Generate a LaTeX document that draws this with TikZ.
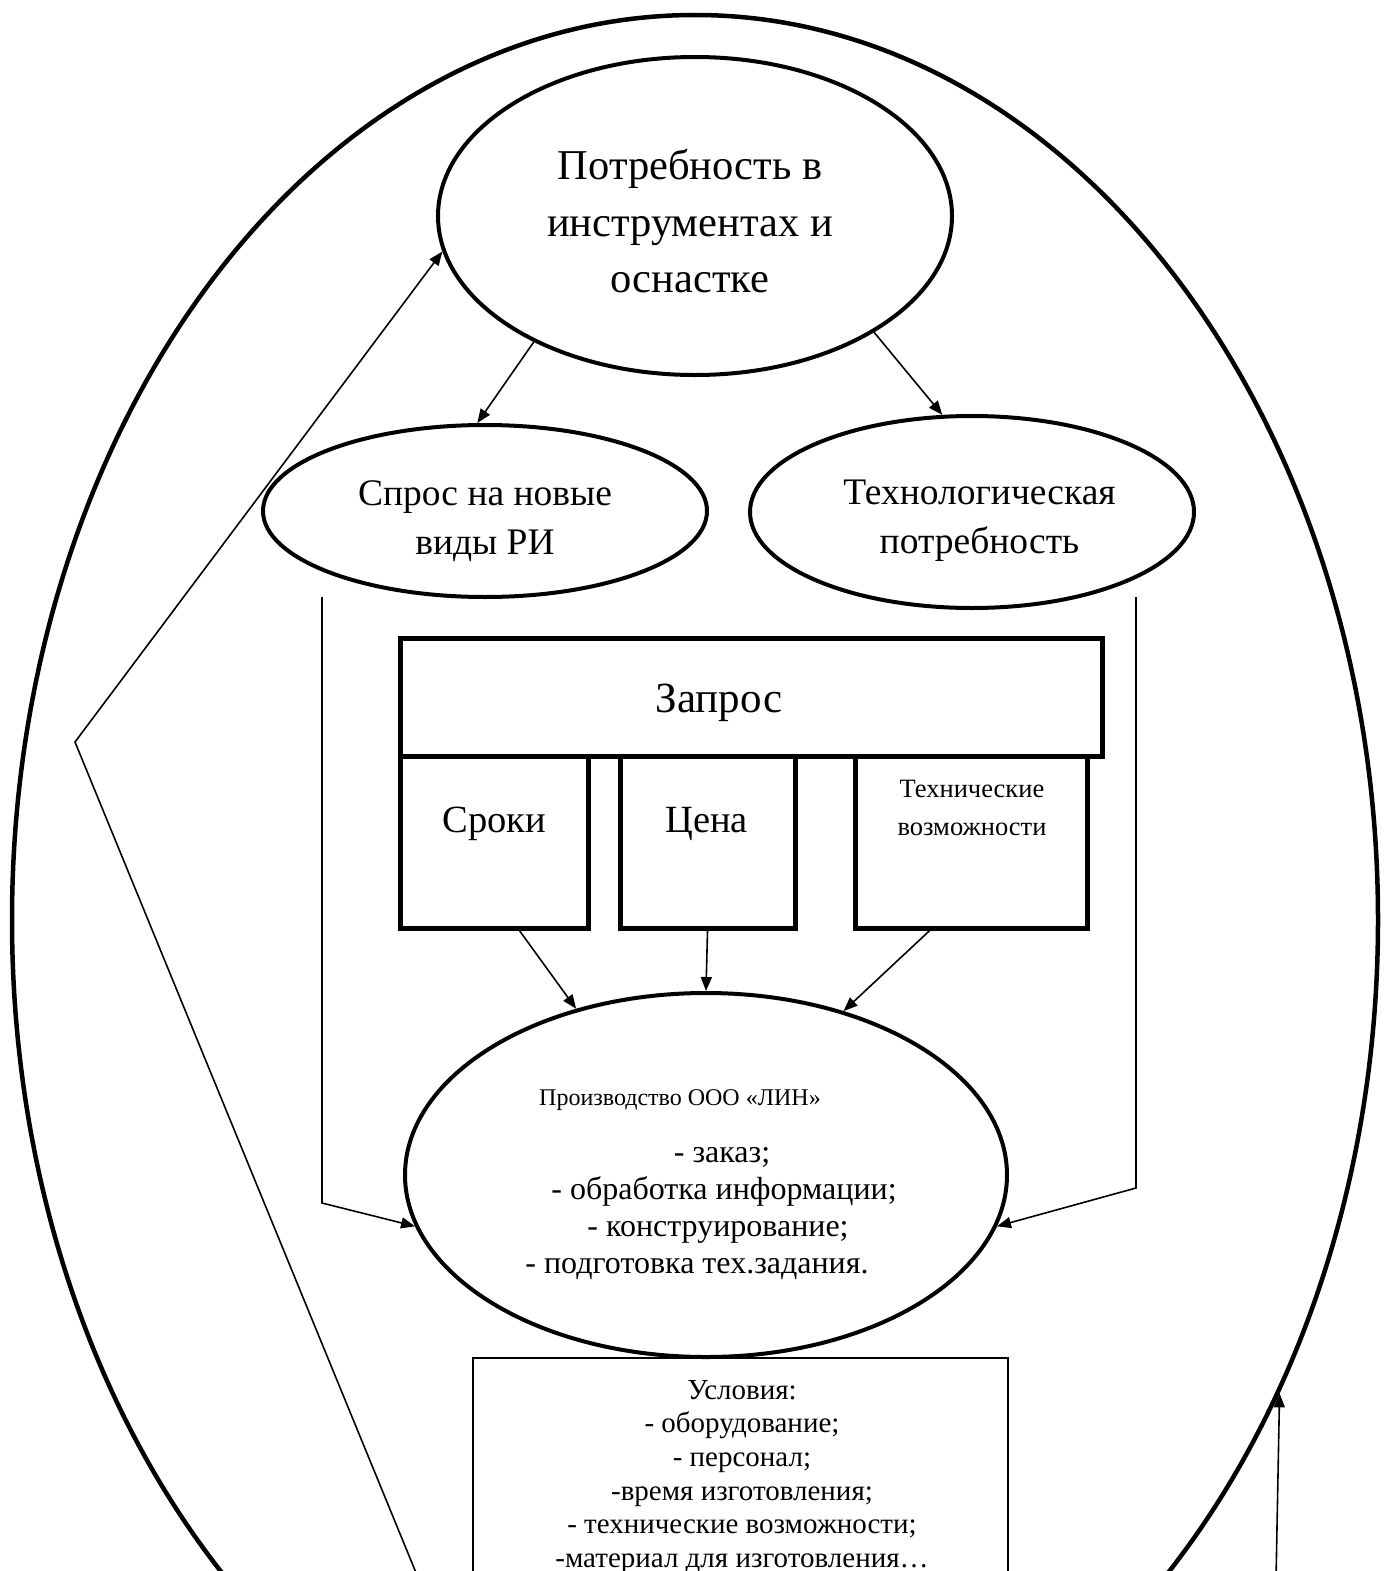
\documentclass[tikz,border=0pt]{standalone}
\usepackage{fontspec}
\setmainfont{Liberation Serif}
\usetikzlibrary{shapes.geometric,arrows.meta}
\begin{document}
\begin{tikzpicture}[x=1pt,y=-1pt,
  oval/.style={draw,ellipse,line width=4pt,inner sep=0pt},
  heavybox/.style={draw,rectangle,line width=5pt,inner sep=0pt},
  thinbox/.style={draw,rectangle,line width=1.5pt,inner sep=0pt},
  label/.style={inner sep=0pt,align=center},
  link/.style={line width=1.6pt,-{Triangle[length=14pt,width=11pt]}},
  big/.style={font=\fontsize{42.5}{56.5}\selectfont},
  mid/.style={font=\fontsize{37.5}{49}\selectfont},
  boxword/.style={font=\fontsize{38.5}{44}\selectfont},
  small/.style={font=\fontsize{26.5}{38}\selectfont},
  list/.style={font=\fontsize{32}{37}\selectfont},
  cond/.style={font=\fontsize{29}{33.6}\selectfont}]
\useasboundingbox (0,0) rectangle (1384,1571);
\fill[white] (0,0) rectangle (1384,1571);
\clip (0,0) rectangle (1384,1571);

% enclosing cycle
\node[oval,line width=4.5pt,minimum width=1366,minimum height=1810] (outer) at (695,920) {};

% needs
\node[oval,minimum width=514,minimum height=318] (top) at (695,216) {};
\node[label,big] (toptext) at (690,221) {Потребность в\\инструментах и\\оснастке};
\node[oval,minimum width=444,minimum height=172] (spros) at (485,511) {};
\node[label,mid] (sprostext) at (485,521) {Спрос на новые\\виды РИ};
\node[oval,minimum width=444,minimum height=192] (tech) at (972,512) {};
\node[label,mid] (techtext) at (979.5,521) {Технологическая\\потребность};

% request block
\node[heavybox,minimum width=702,minimum height=118] (zapros) at (751,697) {};
\node[label,font=\fontsize{43}{48}\selectfont] (zaprostext) at (719,703) {Запрос};
\node[heavybox,minimum width=188,minimum height=172] (sroki) at (494,842) {};
\node[label,boxword] (srokitext) at (494.5,824) {Сроки};
\node[heavybox,minimum width=175,minimum height=172] (tsena) at (707.5,842) {};
\node[label,boxword] (tsenatext) at (706.5,824) {Цена};
\node[heavybox,minimum width=232,minimum height=172] (vozm) at (971,842) {};
\node[label,small] (vozmtext) at (972,808) {Технические\\возможности};

% production
\node[oval,minimum width=602,minimum height=364] (prod) at (706,1175) {};
\node[label,list] (prodtext) at (708,1185)
  {{\fontsize{24}{30}\selectfont Производство ООО «ЛИН»\hspace*{56pt}}\\[20pt]
   \hspace*{28pt}- заказ;\\
   \hspace*{32pt}- обработка информации;\\
   \hspace*{20pt}- конструирование;\\
   - подготовка тех.задания.\hspace*{22pt}};

% conditions
\node[thinbox,minimum width=535,minimum height=250] (cond) at (740.5,1483) {};
\node[label,cond,anchor=north] (condtext) at (742,1380)
  {Условия:\\- оборудование;\\- персонал;\\-время изготовления;\\- технические возможности;\\-материал для изготовления…};

% connectors
\draw[link] (top.-142) -- (spros.95);
\draw[link] (top.-33) -- (tech.107);

\coordinate (sprosfoot) at (322,597);
\coordinate (sprosbend) at (322,1203);
\draw[link] (sprosfoot) -- (sprosbend) -- (prod.190);

\coordinate (techfoot) at (1136,597);
\coordinate (techbend) at (1136,1188);
\draw[link] (techfoot) -- (techbend) -- (prod.-10);

\draw[link] (sroki.-74) -- (prod.128);
\draw[link] (tsena.south) -- (prod.north);
\draw[link] (vozm.-115) -- (prod.50);

\coordinate (backstart) at (419,1580);
\coordinate (backbend) at (75,742);
\draw[link] (backstart) -- (backbend) -- (top.-172);

\coordinate (risestart) at (1276,1580);
\draw[link] (risestart) -- (outer.-39.2);
\end{tikzpicture}
\end{document}
